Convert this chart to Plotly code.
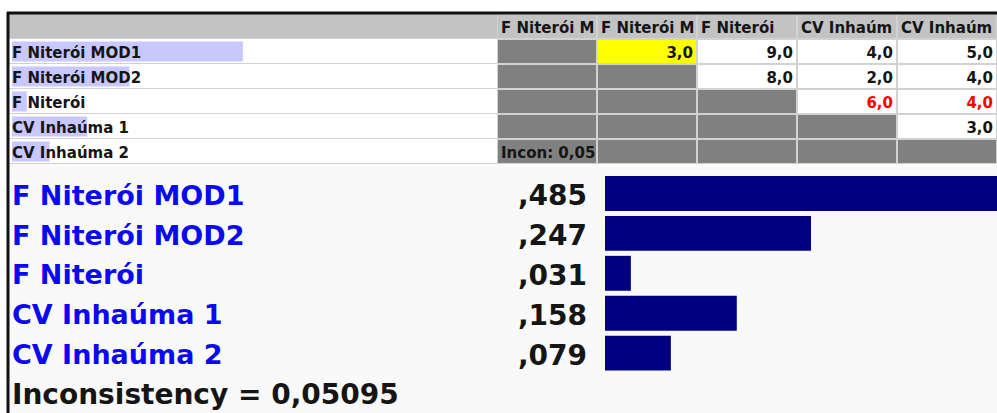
import plotly.graph_objects as go

# ---------------- data ----------------
alternatives = ["F Niterói MOD1", "F Niterói MOD2", "F Niterói", "CV Inhaúma 1", "CV Inhaúma 2"]
header_labels = ["F Niterói M", "F Niterói M", "F Niterói", "CV Inhaúm", "CV Inhaúm"]
priorities = [0.485, 0.247, 0.031, 0.158, 0.079]
priority_labels = [",485", ",247", ",031", ",158", ",079"]
judgments = [
    [None, 3.0, 9.0, 4.0, 5.0],
    [None, None, 8.0, 2.0, 4.0],
    [None, None, None, 6.0, 4.0],
    [None, None, None, None, 3.0],
    [None, None, None, None, None],
]
inverted = [
    [0, 0, 0, 0, 0],
    [0, 0, 0, 0, 0],
    [0, 0, 0, 1, 1],
    [0, 0, 0, 0, 0],
    [0, 0, 0, 0, 0],
]
selected_cell = (0, 1)
incon_short = "Incon: 0,05"
inconsistency_text = "Inconsistency = 0,05095"

# ---------------- styles / layout constants ----------------
W, H = 997, 413
FONT = "DejaVu Sans"
TS = 15  # table font size
C_WHITE, C_GRAY, C_YELLOW, C_HEAD = "#ffffff", "#808080", "#ffff00", "#c3c3c3"
C_GAP = "#d2d2d2"
C_NAMEBAR = "#c8c8ff"
C_BAR = "#000080"
C_BLUE = "#0a0af0"
C_TXT = "#151515"
C_RED = "#ff0000"

n = len(alternatives)
rows = list(range(n + 1))          # 0 = header row
cols = list(range(n))
name_range = [-3 / 476, 485 / 476]  # name-column scale (weight units)
TABLE_TXT_SHIFT = 0.09              # baseline nudge of table texts (row units)
CHART_TXT_SHIFT = 0.11              # baseline nudge of chart texts (band units)

# cell type codes: 0 white, 1 gray, 2 selected, 3 header
z_cells = [[3] * n]
for r in range(n):
    row = []
    for c in range(n):
        if judgments[r][c] is None:
            row.append(1)
        elif (r, c) == selected_cell:
            row.append(2)
        else:
            row.append(0)
    z_cells.append(row)
cell_scale = [[0, C_WHITE], [1 / 3, C_GRAY], [2 / 3, C_YELLOW], [1, C_HEAD]]

tfont = dict(family=FONT, size=TS, color=C_TXT, weight="bold")
fig = go.Figure()

# ---- matrix part ----
fig.add_trace(go.Heatmap(z=[[0]], x=[-0.5, n - 0.5], y=[-0.5, n + 0.5],
                         colorscale=[[0, C_GAP], [1, C_GAP]], showscale=False,
                         hoverinfo="skip", xaxis="x", yaxis="y"))
fig.add_trace(go.Heatmap(z=z_cells, x=cols, y=rows, zmin=0, zmax=3,
                         colorscale=cell_scale, showscale=False, xgap=2, ygap=2,
                         hoverinfo="skip", xaxis="x", yaxis="y"))

# header labels (left aligned in cells)
fig.add_trace(go.Scatter(x=[c - 0.46 for c in cols], y=[0] * n, mode="text",
                         text=header_labels, textposition="middle right", textfont=tfont,
                         hoverinfo="skip", xaxis="x", yaxis="y2", cliponaxis=False))

# judgment values (right aligned)
vx, vy, vt, vc = [], [], [], []
for r in range(n):
    for c in range(n):
        v = judgments[r][c]
        if v is not None:
            vx.append(c + 0.46)
            vy.append(r + 1)
            vt.append(f"{v:.1f}".replace(".", ","))
            vc.append(C_RED if inverted[r][c] else C_TXT)
fig.add_trace(go.Scatter(x=vx, y=vy, mode="text", text=vt, textposition="middle left",
                         textfont=dict(family=FONT, size=TS, color=vc, weight="bold"),
                         hoverinfo="skip", xaxis="x", yaxis="y2", cliponaxis=False))

# incon label in bottom-left cell
fig.add_trace(go.Scatter(x=[-0.46], y=[n], mode="text", text=[incon_short],
                         textposition="middle right", textfont=tfont,
                         hoverinfo="skip", xaxis="x", yaxis="y2", cliponaxis=False))

# ---- name column ----
fig.add_trace(go.Heatmap(z=[[0]], x=name_range, y=[-0.5, n + 0.5],
                         colorscale=[[0, C_GAP], [1, C_GAP]], showscale=False,
                         hoverinfo="skip", xaxis="x2", yaxis="y"))
fig.add_trace(go.Heatmap(z=[[3]] + [[0]] * n, x=name_range, y=rows, zmin=0, zmax=3,
                         colorscale=cell_scale, showscale=False, ygap=1,
                         hoverinfo="skip", xaxis="x2", yaxis="y"))
fig.add_trace(go.Bar(x=priorities, y=rows[1:], orientation="h", width=0.8,
                     marker=dict(color=C_NAMEBAR, line=dict(width=0)),
                     hoverinfo="skip", xaxis="x2", yaxis="y"))
fig.add_trace(go.Scatter(x=[0] * n, y=rows[1:], mode="text", text=alternatives,
                         textposition="middle right", textfont=tfont,
                         hoverinfo="skip", xaxis="x2", yaxis="y2", cliponaxis=False))

# ---- priority bar chart ----
fig.add_trace(go.Bar(x=priorities, y=list(range(n)), orientation="h", width=0.875,
                     marker=dict(color=C_BAR, line=dict(width=0)),
                     hoverinfo="skip", xaxis="x3", yaxis="y3"))
fig.add_trace(go.Scatter(x=[0] * n, y=list(range(n)), mode="text", text=alternatives,
                         textposition="middle right",
                         textfont=dict(family=FONT, size=27, color=C_BLUE, weight="bold"),
                         hoverinfo="skip", xaxis="x4", yaxis="y4", cliponaxis=False))
fig.add_trace(go.Scatter(x=[1] * n, y=list(range(n)), mode="text", text=priority_labels,
                         textposition="middle left",
                         textfont=dict(family=FONT, size=28, color=C_TXT, weight="bold"),
                         hoverinfo="skip", xaxis="x4", yaxis="y4", cliponaxis=False))
fig.add_trace(go.Scatter(x=[0], y=[n], mode="text", text=[inconsistency_text],
                         textposition="middle right",
                         textfont=dict(family=FONT, size=28, color=C_TXT, weight="bold"),
                         hoverinfo="skip", xaxis="x4", yaxis="y4", cliponaxis=False))

hidden = dict(visible=False, fixedrange=True)
table_dom = [1 - 164 / H, 1 - 14 / H]
chart_dom = [0, 1 - 173.5 / H]
fig.update_layout(
    width=W, height=H,
    margin=dict(l=0, r=0, t=0, b=0),
    paper_bgcolor="#ffffff",
    plot_bgcolor="rgba(0,0,0,0)",
    showlegend=False,
    barmode="overlay",
    xaxis=dict(domain=[497 / W, 1], range=[-0.5, n - 0.5], anchor="y", **hidden),
    yaxis=dict(domain=table_dom, range=[n + 0.5, -0.5], anchor="x", **hidden),
    yaxis2=dict(domain=table_dom, range=[n + 0.5 - TABLE_TXT_SHIFT, -0.5 - TABLE_TXT_SHIFT],
                anchor="x", **hidden),
    xaxis2=dict(domain=[9 / W, 497 / W], range=name_range, anchor="y", **hidden),
    xaxis3=dict(domain=[605 / W, 1], range=[0, 0.47], anchor="y3", **hidden),
    yaxis3=dict(domain=chart_dom, range=[n + 0.5, -0.5], anchor="x3", **hidden),
    yaxis4=dict(domain=chart_dom, range=[n + 0.5 - CHART_TXT_SHIFT, -0.5 - CHART_TXT_SHIFT],
                anchor="x4", **hidden),
    xaxis4=dict(domain=[12 / W, 587 / W], range=[0, 1], anchor="y4", **hidden),
    shapes=[
        dict(type="rect", xref="paper", yref="paper", x0=8 / W, x1=1.01, y0=-0.01,
             y1=1 - 13 / H, fillcolor="#f9f9f9", line=dict(width=0), layer="below"),
        dict(type="line", xref="paper", yref="paper", x0=7 / W, x1=1.01,
             y0=1 - 13 / H, y1=1 - 13 / H, line=dict(color="#111111", width=3)),
        dict(type="line", xref="paper", yref="paper", x0=8 / W, x1=8 / W,
             y0=-0.01, y1=1 - 12 / H, line=dict(color="#111111", width=3)),
    ],
)

fig.write_html(
    "out.html",
    config={"displayModeBar": False, "staticPlot": True},
    post_script="document.body.style.margin='0px';document.body.style.overflow='hidden';",
)
